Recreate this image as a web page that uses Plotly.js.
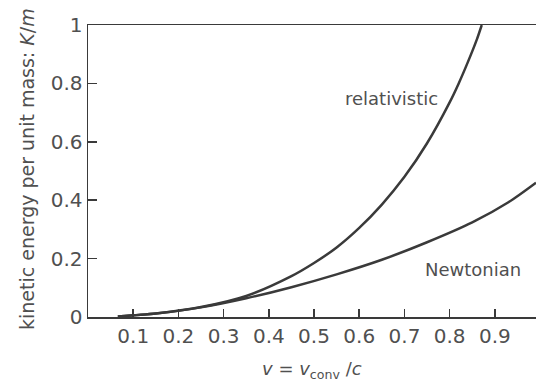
<!DOCTYPE html>
<html>
<head>
<meta charset="utf-8">
<script src="https://cdn.plot.ly/plotly-3.0.1.min.js"></script>
<style>html,body{margin:0;padding:0;background:#fff;}#chart{width:536px;height:385px;}</style>
</head>
<body>
<div id="chart"></div>
<script>
// Speed v = v_conv / c
const relV = [0.066, 0.15, 0.25, 0.35, 0.45, 0.50, 0.55, 0.60, 0.65, 0.70, 0.75, 0.80, 0.82, 0.84, 0.86, 0.871];
// Relativistic kinetic energy per unit mass K/m
const relK = [0.002, 0.012, 0.034, 0.072, 0.140, 0.185, 0.238, 0.305, 0.385, 0.480, 0.595, 0.735, 0.800, 0.872, 0.950, 1.0];

const newtV = [0.066, 0.15, 0.25, 0.35, 0.45, 0.55, 0.65, 0.75, 0.85, 0.93, 0.991];
// Newtonian kinetic energy per unit mass K/m
const newtK = [0.002, 0.012, 0.033, 0.064, 0.102, 0.146, 0.196, 0.256, 0.324, 0.393, 0.460];

const xTickVals = [0.1, 0.2, 0.3, 0.4, 0.5, 0.6, 0.7, 0.8, 0.9];
const xTickText = ["0.1", "0.2", "0.3", "0.4", "0.5", "0.6", "0.7", "0.8", "0.9"];
const yTickVals = [0, 0.2, 0.4, 0.6, 0.8, 1];
const yTickText = ["0", "0.2", "0.4", "0.6", "0.8", "1"];

const labelRel = "relativistic";
const labelNewt = "Newtonian";
const xTitle = "<i>v</i> = <i>v</i><sub>conv</sub> /<i>c</i>";
const yTitle = "kinetic energy per unit mass: <i>K</i>/<i>m</i>";

const lineColor = "#3a3a3a";
const textColor = "#505050";
const fontFam = "'DejaVu Sans', sans-serif";

const traces = [
  {x: relV, y: relK, mode: "lines", line: {color: lineColor, width: 2.5, shape: "spline", smoothing: 0.8}, hoverinfo: "skip"},
  {x: newtV, y: newtK, mode: "lines", line: {color: lineColor, width: 2.5, shape: "spline", smoothing: 0.8}, hoverinfo: "skip"}
];

const layout = {
  width: 536, height: 385,
  margin: {l: 88, r: 0, t: 25, b: 68},
  paper_bgcolor: "#fff", plot_bgcolor: "#fff",
  showlegend: false,
  font: {family: fontFam, color: textColor, size: 20},
  xaxis: {
    range: [0, 0.991], tickvals: xTickVals, ticktext: xTickText,
    ticks: "inside", ticklen: 8, tickwidth: 1.5, tickcolor: lineColor,
    showline: true, linecolor: lineColor, linewidth: 1.5, mirror: true,
    showgrid: false, zeroline: false, fixedrange: true,
    tickfont: {size: 20, color: textColor, family: fontFam}
  },
  yaxis: {
    range: [0, 1], tickvals: yTickVals, ticktext: yTickText,
    ticks: "inside", ticklen: 9, tickwidth: 1.5, tickcolor: lineColor,
    showline: true, linecolor: lineColor, linewidth: 1.5,
    showgrid: false, zeroline: false, fixedrange: true,
    tickfont: {size: 20, color: textColor, family: fontFam}
  },
  annotations: [
    {x: 0.672, y: 0.75, xref: "x", yref: "y", text: labelRel, showarrow: false,
     xanchor: "center", yanchor: "middle", font: {size: 18, color: textColor, family: fontFam}},
    {x: 0.852, y: 0.161, xref: "x", yref: "y", text: labelNewt, showarrow: false,
     xanchor: "center", yanchor: "middle", font: {size: 18, color: textColor, family: fontFam}},
    {x: 0.5, y: 0, xref: "paper", yref: "paper", text: xTitle, showarrow: false,
     xanchor: "center", yanchor: "middle", yshift: -53, font: {size: 18, color: textColor, family: fontFam}},
    {x: 0, y: 0.5, xref: "paper", yref: "paper", text: yTitle, showarrow: false, textangle: -90,
     xanchor: "center", yanchor: "middle", xshift: -61, yshift: 2, font: {size: 19, color: textColor, family: fontFam}}
  ]
};

Plotly.newPlot("chart", traces, layout, {staticPlot: true, displayModeBar: false});
</script>
</body>
</html>
